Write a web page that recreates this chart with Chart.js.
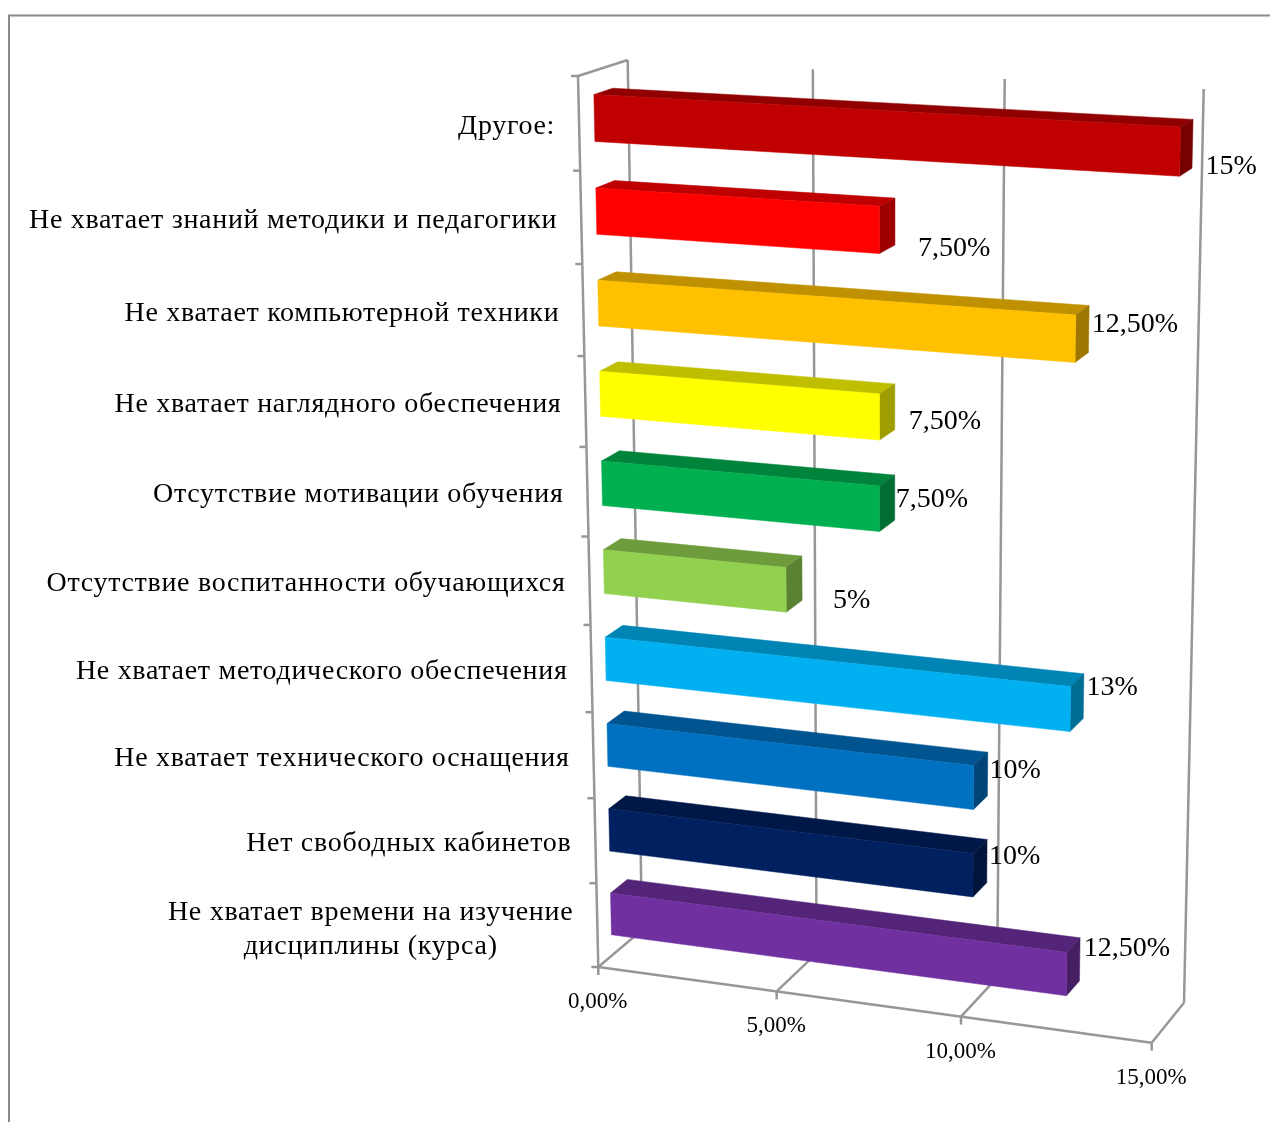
<!DOCTYPE html>
<html lang="ru">
<head>
<meta charset="utf-8">
<title>Диаграмма</title>
<script src="https://cdn.jsdelivr.net/npm/chart.js@4"></script>
<style>
html, body { margin: 0; padding: 0; background: #fff; }
canvas { display: block; }
</style>
</head>
<body>
<canvas id="grafico" width="1270" height="1122"></canvas>
<script>
// dados do gráfico
const categorias = [
    'Другое:',
    'Не хватает знаний методики и педагогики',
    'Не хватает компьютерной техники',
    'Не хватает наглядного обеспечения',
    'Отсутствие мотивации обучения',
    'Отсутствие воспитанности обучающихся',
    'Не хватает методического обеспечения',
    'Не хватает технического оснащения',
    'Нет свободных кабинетов',
    ['Не хватает времени на изучение', 'дисциплины (курса)']
];
const valores = [15, 7.5, 12.5, 7.5, 7.5, 5, 12.5, 10, 10, 12.5];
const rotulos = ['15%', '7,50%', '12,50%', '7,50%', '7,50%', '5%', '13%', '10%', '10%', '12,50%'];
const cores = ['#c00000', '#ff0000', '#ffc000', '#ffff00', '#00b050', '#92d050', '#00b0f0', '#0070c0', '#002060', '#7030a0'];
const ticksX = [0, 5, 10, 15];

// deslocamento de cada rótulo em relação ao fim da barra (como no original)
const deslocRotulo = [[13, 23], [23, 27], [3, -4], [14, 15], [1, 2], [31, 22], [3, -8], [2, -3], [2, -5], [4, -11]];

// cantos da caixa 3D na tela: plano da frente e plano de trás
const FRENTE = [[578, 76], [1171, 108], [1151.7, 1042.7], [598.3, 967]];
const FUNDO = [[627.7, 60], [1203.7, 89], [1184, 1002.7], [642, 930]];
const Z_INICIO = 0.31;
const Z_FIM = 0.69;
const COR_GRADE = '#979797';
const FONTE = '"Liberation Serif"';

// homografia do quadrado unitário para um quadrilátero
function criarHomografia(q) {
    const [p0, p1, p2, p3] = q;
    const dx1 = p1[0] - p2[0], dx2 = p3[0] - p2[0], sx = p0[0] - p1[0] + p2[0] - p3[0];
    const dy1 = p1[1] - p2[1], dy2 = p3[1] - p2[1], sy = p0[1] - p1[1] + p2[1] - p3[1];
    const den = dx1 * dy2 - dx2 * dy1;
    const g = (sx * dy2 - dx2 * sy) / den;
    const h = (dx1 * sy - sx * dy1) / den;
    const a = p1[0] - p0[0] + g * p1[0], b = p3[0] - p0[0] + h * p3[0];
    const d = p1[1] - p0[1] + g * p1[1], e = p3[1] - p0[1] + h * p3[1];
    return (u, v) => {
        const w = g * u + h * v + 1;
        return [(a * u + b * v + p0[0]) / w, (d * u + e * v + p0[1]) / w];
    };
}
const homFrente = criarHomografia(FRENTE);
const homFundo = criarHomografia(FUNDO);

// pixel do Chart.js (px, py) + profundidade z -> ponto na tela
function projetar(chart, px, py, z) {
    const area = chart.chartArea;
    const u = (px - area.left) / (area.right - area.left);
    const v = (py - area.top) / (area.bottom - area.top);
    const f = homFrente(u, v);
    const t = homFundo(u, v);
    return [f[0] + (t[0] - f[0]) * z, f[1] + (t[1] - f[1]) * z];
}

function linha(ctx, a, b) {
    ctx.beginPath();
    ctx.moveTo(a[0], a[1]);
    ctx.lineTo(b[0], b[1]);
    ctx.stroke();
}

function face(ctx, pontos, cor) {
    ctx.fillStyle = cor;
    ctx.strokeStyle = cor;
    ctx.lineWidth = 0.5;
    ctx.beginPath();
    pontos.forEach((p, i) => i ? ctx.lineTo(p[0], p[1]) : ctx.moveTo(p[0], p[1]));
    ctx.closePath();
    ctx.fill();
    ctx.stroke();
}

function escurecer(hex, k) {
    const n = parseInt(hex.slice(1), 16);
    const r = Math.round((n >> 16 & 255) * k);
    const g = Math.round((n >> 8 & 255) * k);
    const b = Math.round((n & 255) * k);
    return `rgb(${r}, ${g}, ${b})`;
}

const caixa3d = {
    id: 'caixa3d',
    // moldura, paredes e grade
    beforeDatasetsDraw(chart) {
        const ctx = chart.ctx;
        const { x: escX, y: escY } = chart.scales;
        const { top, bottom, left } = chart.chartArea;
        ctx.save();

        ctx.strokeStyle = '#8a8a8a';
        ctx.lineWidth = 2;
        ctx.beginPath();
        ctx.moveTo(9, 1122);
        ctx.lineTo(9, 15.5);
        ctx.lineTo(1270, 15.5);
        ctx.stroke();

        ctx.strokeStyle = COR_GRADE;
        ctx.lineWidth = 2.5;
        escX.ticks.forEach(t => {
            const px = escX.getPixelForValue(t.value);
            linha(ctx, projetar(chart, px, top, 1), projetar(chart, px, bottom, 1));
            linha(ctx, projetar(chart, px, bottom, 1), projetar(chart, px, bottom, 0));
            // tracinho do eixo X
            const p = projetar(chart, px, bottom, 0);
            linha(ctx, p, [p[0], p[1] + 8]);
        });
        linha(ctx, projetar(chart, left, top, 0), projetar(chart, left, top, 1));
        linha(ctx, projetar(chart, left, top, 0), projetar(chart, left, bottom, 0));
        linha(ctx, projetar(chart, left, bottom, 0), projetar(chart, chart.chartArea.right, bottom, 0));

        // tracinhos do eixo Y, nos limites das categorias
        for (let i = 0; i <= categorias.length; i++) {
            const p = projetar(chart, left, escY.getPixelForValue(i - 0.5), 0);
            linha(ctx, p, [p[0] - 7, p[1]]);
        }
        ctx.restore();
    },
    // desenha as barras como caixas, no lugar do retângulo padrão
    beforeDatasetDraw(chart, args) {
        const ctx = chart.ctx;
        const barras = args.meta.data;
        ctx.save();
        barras.forEach((barra, i) => {
            const topo = barra.y - barra.height / 2;
            const base = barra.y + barra.height / 2;
            const cor = cores[i];
            const ftl = projetar(chart, barra.base, topo, Z_INICIO);
            const ftr = projetar(chart, barra.x, topo, Z_INICIO);
            const fbr = projetar(chart, barra.x, base, Z_INICIO);
            const fbl = projetar(chart, barra.base, base, Z_INICIO);
            const ttl = projetar(chart, barra.base, topo, Z_FIM);
            const ttr = projetar(chart, barra.x, topo, Z_FIM);
            const tbr = projetar(chart, barra.x, base, Z_FIM);
            face(ctx, [ftl, ftr, ttr, ttl], escurecer(cor, 0.75));
            face(ctx, [ftr, fbr, tbr, ttr], escurecer(cor, 0.62));
            face(ctx, [ftl, ftr, fbr, fbl], cor);
        });
        ctx.restore();
        return false;
    },
    // textos: categorias, ticks e rótulos
    afterDatasetsDraw(chart) {
        const ctx = chart.ctx;
        const { x: escX, y: escY } = chart.scales;
        const { bottom, left } = chart.chartArea;
        ctx.save();
        ctx.fillStyle = '#000';
        ctx.textBaseline = 'middle';

        ctx.font = `28px ${FONTE}`;
        ctx.letterSpacing = '0.7px';
        categorias.forEach((rotulo, i) => {
            const p = projetar(chart, left, escY.getPixelForValue(i), 0);
            const linhas = [].concat(rotulo);
            const largura = Math.max(...linhas.map(l => ctx.measureText(l).width));
            const meio = p[0] - 24 - largura / 2;
            const ajuste = linhas.length > 1 ? 1.5 : 0;
            ctx.textAlign = 'center';
            linhas.forEach((l, j) => {
                ctx.fillText(l, meio, p[1] + 3 + ajuste + (j - (linhas.length - 1) / 2) * 34);
            });
        });
        ctx.letterSpacing = '0px';

        ctx.font = `23px ${FONTE}`;
        ctx.textAlign = 'center';
        escX.ticks.forEach(t => {
            const p = projetar(chart, escX.getPixelForValue(t.value), bottom, 0);
            ctx.fillText(t.label, p[0] - 0.5, p[1] + 35);
        });

        ctx.font = `28px ${FONTE}`;
        ctx.textAlign = 'left';
        chart.getDatasetMeta(0).data.forEach((barra, i) => {
            const p = projetar(chart, barra.x, barra.y, Z_FIM);
            ctx.fillText(rotulos[i], p[0] + deslocRotulo[i][0], p[1] + deslocRotulo[i][1]);
        });
        ctx.restore();
    }
};

new Chart(document.getElementById('grafico'), {
    type: 'bar',
    data: {
        labels: categorias,
        datasets: [{
            label: 'Доля ответов',
            data: valores,
            backgroundColor: cores,
            categoryPercentage: 1,
            barPercentage: 0.5
        }]
    },
    options: {
        indexAxis: 'y',
        responsive: false,
        animation: false,
        layout: { padding: 0 },
        plugins: { legend: { display: false }, tooltip: { enabled: false } },
        scales: {
            x: {
                min: ticksX[0],
                max: ticksX[ticksX.length - 1],
                grid: { display: false },
                border: { display: false },
                ticks: {
                    display: false,
                    stepSize: 5,
                    callback: v => v.toFixed(2).replace('.', ',') + '%'
                }
            },
            y: {
                grid: { display: false },
                border: { display: false },
                ticks: { display: false }
            }
        }
    },
    plugins: [caixa3d]
});
</script>
</body>
</html>
